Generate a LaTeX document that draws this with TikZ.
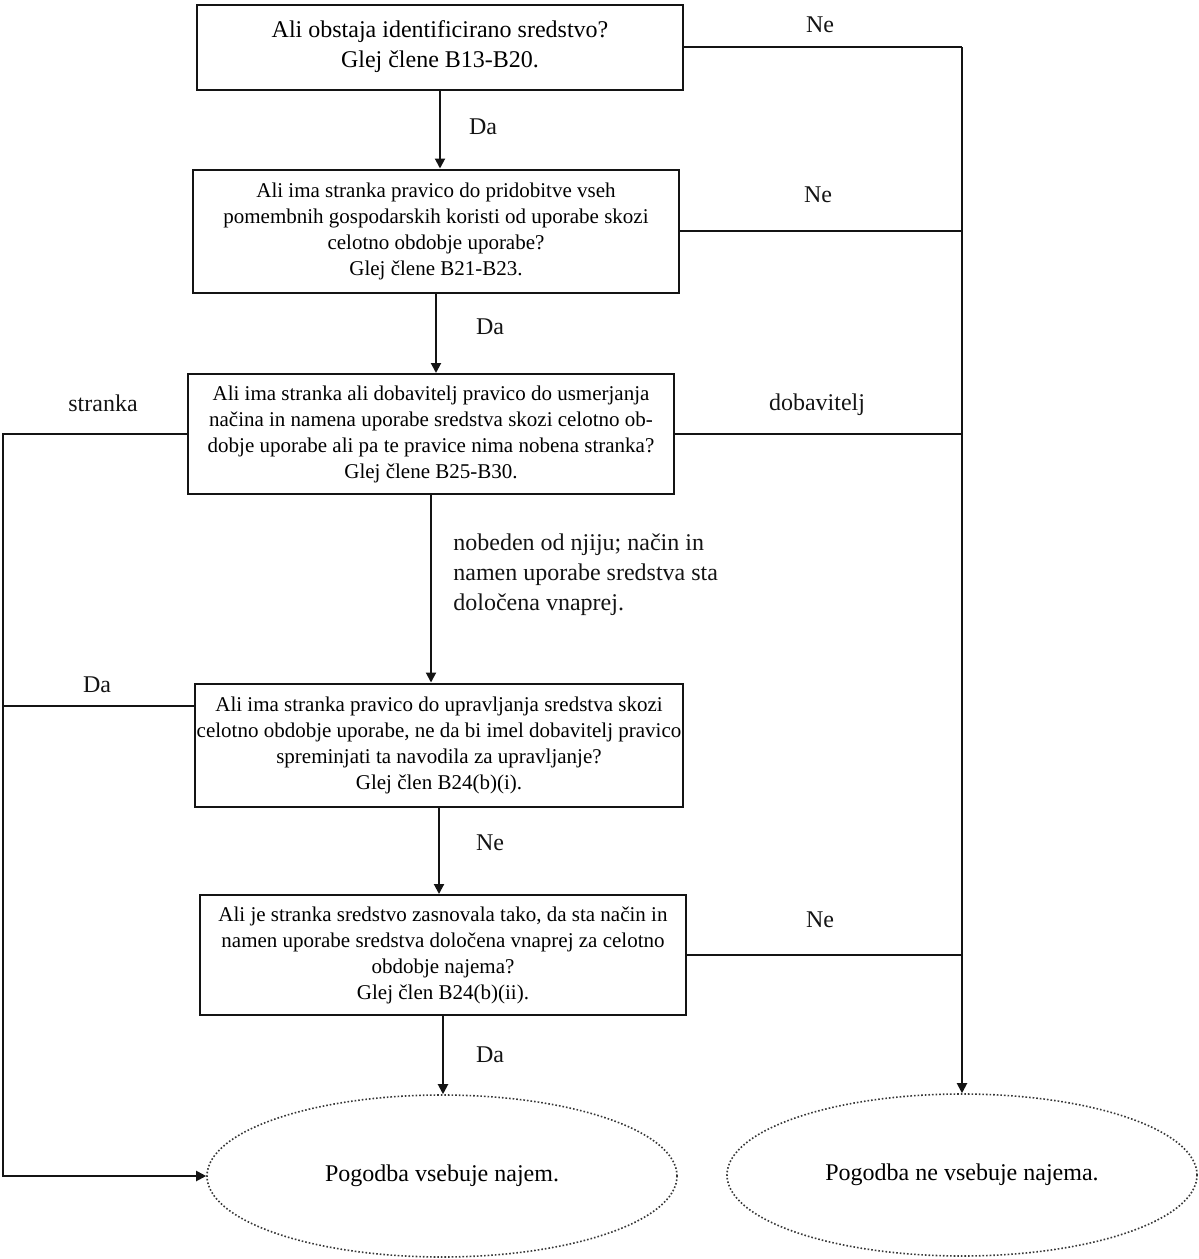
\documentclass[tikz,border=0pt]{standalone}
\usepackage{fontspec}
\setmainfont{Liberation Serif}
\usetikzlibrary{arrows.meta,shapes.geometric}
\definecolor{ink}{RGB}{20,20,20}
\tikzset{
  >={Triangle[length=5pt,width=5pt]},
  qbox/.style={draw=ink,line width=1pt,minimum width=243pt,minimum height=#1,
    inner sep=1pt,align=center,font=\fontsize{10.5}{13}\selectfont},
  qbox/.default=61.5pt,
  endnode/.style={ellipse,draw=ink!85,densely dotted,line width=0.8pt,minimum width=235pt,
    minimum height=81pt,inner sep=0pt,font=\fontsize{12}{15}\selectfont},
  flow/.style={->,line width=1pt,draw=ink},
  joint/.style={line width=1pt,draw=ink},
  tag/.style={font=\fontsize{12}{15}\selectfont,text=ink,align=left,inner sep=0pt},
}

\begin{document}
\begin{tikzpicture}[x=0.5pt,y=-0.5pt]
        \useasboundingbox (0,0) rectangle (1199,1259);
        % questions
        \node[qbox=42.5pt,font=\fontsize{12}{15}\selectfont] (b1) at (440,47) {Ali obstaja identificirano sredstvo?\\Glej člene B13-B20.};
        \node[qbox] (b2) at (436,231) {Ali ima stranka pravico do pridobitve vseh\\pomembnih gospodarskih koristi od uporabe skozi\\celotno obdobje uporabe?\\Glej člene B21-B23.};
        \node[qbox=60pt] (b3) at (431,434) {Ali ima stranka ali dobavitelj pravico do usmerjanja\\načina in namena uporabe sredstva skozi celotno ob-\\dobje uporabe ali pa te pravice nima nobena stranka?\\Glej člene B25-B30.};
        \node[qbox] (b4) at (439,745) {Ali ima stranka pravico do upravljanja sredstva skozi\\celotno obdobje uporabe, ne da bi imel dobavitelj pravico\\spreminjati ta navodila za upravljanje?\\Glej člen B24(b)(i).};
        \node[qbox=60pt] (b5) at (443,955) {Ali je stranka sredstvo zasnovala tako, da sta način in\\namen uporabe sredstva določena vnaprej za celotno\\obdobje najema?\\Glej člen B24(b)(ii).};
        % outcomes
        \node[endnode] (e1) at (442,1176) {Pogodba vsebuje najem.};
        \node[endnode] (e2) at (962,1175) {Pogodba ne vsebuje najema.};
        \coordinate (rt) at (962,47);
        \coordinate (lt) at (3,437);
        % down the middle
        \foreach \a/\b in {b1/b2,b2/b3,b3/b4,b4/b5,b5/e1}
          \draw[flow] (\a.south) -- (\a.south |- \b.north);
        % right side: no
        \draw[joint] (b1.east) -- (rt);
        \draw[flow] (rt) -- (e2.north);
        \foreach \a in {b2,b3,b5}
          \draw[joint] (\a.east) -- (\a.east -| rt);
        % left side: yes
        \draw[flow] (b3.west) -- (b3.west -| lt) -- (lt |- e1.west) -- (e1.west);
        \draw[joint] ([yshift=19.5pt]b4.west) -- ([yshift=19.5pt]b4.west -| lt);
        % labels
        \foreach \n/\x/\y/\t in {ne1/820/25/Ne,da1/483/127/Da,ne2/818/195/Ne,da2/490/327/Da,
          str/103/403/stranka,dob/817/405/dobavitelj,da3/97/685/Da,ne4/490/843/Ne,ne5/820/920/Ne,da5/490/1055/Da}
          \node[tag] (\n) at (\x,\y) {\t};
        \node[tag,anchor=west] (nob) at (453,575) {nobeden od njiju; način in\\namen uporabe sredstva sta\\določena vnaprej.};
\end{tikzpicture}
\end{document}
